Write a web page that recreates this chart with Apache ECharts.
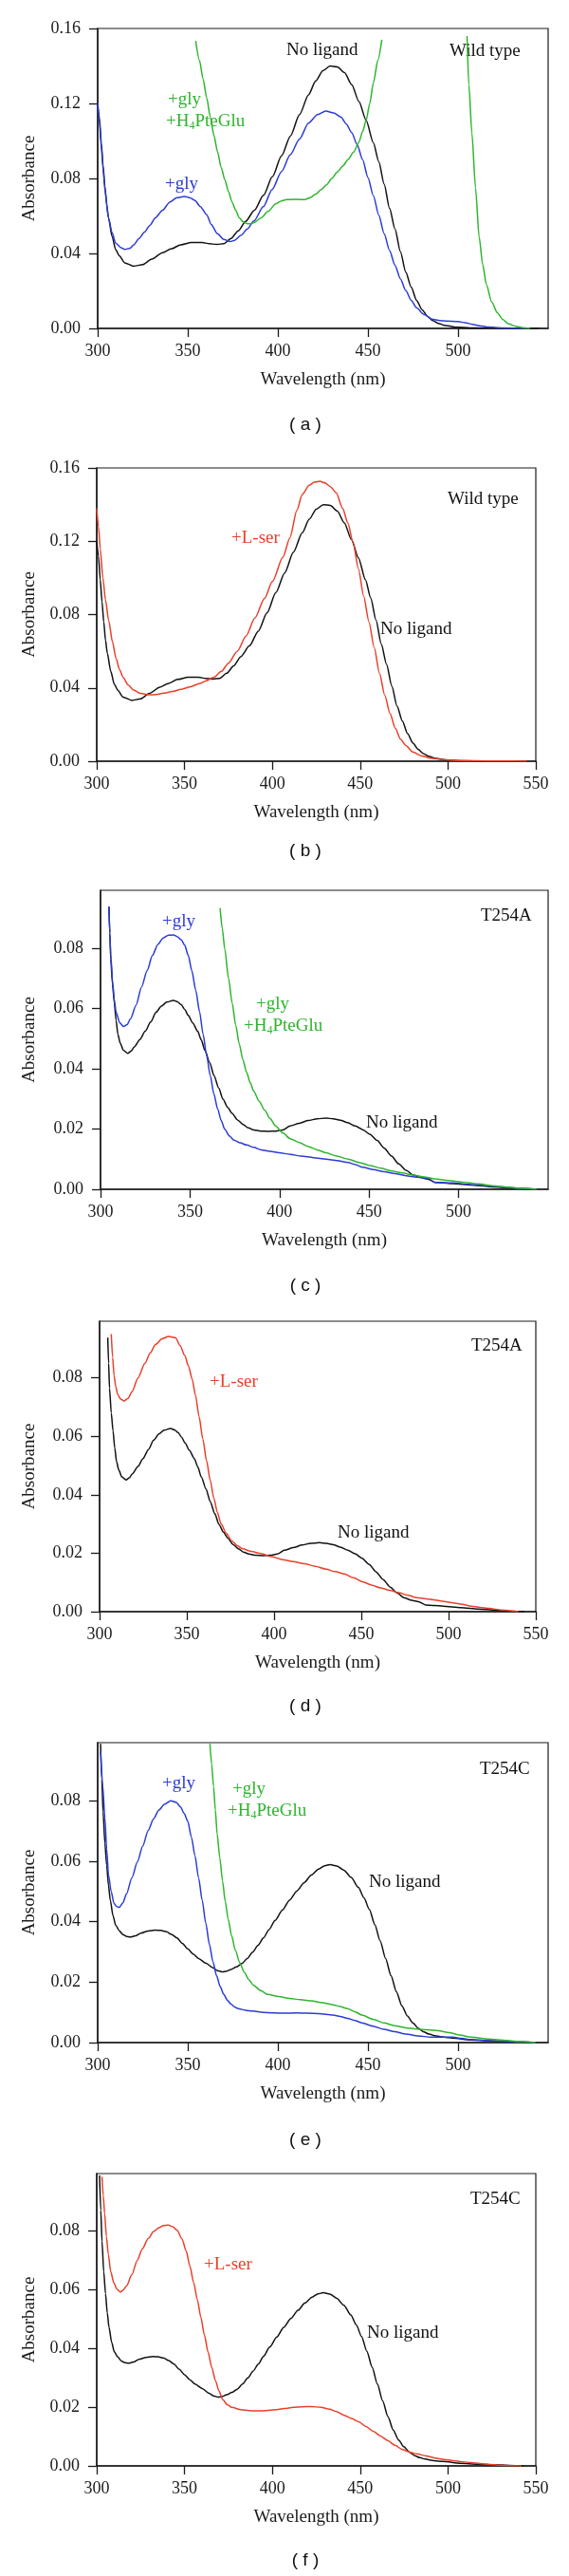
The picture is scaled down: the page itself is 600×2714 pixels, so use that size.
<!DOCTYPE html>
<html><head><meta charset="utf-8">
<script src="https://cdn.jsdelivr.net/npm/echarts@6/dist/echarts.min.js"></script>
<style>html,body{margin:0;padding:0;background:#fff}#c{width:600px;height:2714px}</style>
</head><body><div id="c"></div>
<script>
// ---------- DATA (wavelength nm, absorbance) ----------
const wtNoLigand = [[300,0.120],[301,0.112],[302,0.099],[303,0.087],[304,0.076],[305,0.066],[306,0.059],[308,0.049],[310,0.042],[312,0.0387],[315,0.035],[320,0.0332],[325,0.034],[330,0.037],[336,0.0404],[341,0.0425],[346,0.0446],[352,0.0458],[358,0.0458],[362,0.0452],[366,0.0448],[370,0.0452],[374,0.048],[378,0.052],[382,0.057],[387,0.063],[392,0.071],[397,0.081],[402,0.092],[407,0.1027],[412,0.114],[417,0.1246],[421,0.132],[425,0.1375],[429,0.140],[433,0.1395],[437,0.1364],[441,0.130],[445,0.121],[449,0.111],[453,0.099],[456,0.089],[459,0.077],[462,0.064],[465,0.053],[468,0.041],[471,0.030],[474,0.022],[477,0.015],[480,0.010],[483,0.0065],[486,0.0042],[489,0.0027],[493,0.0015],[500,0.0006],[510,0.0002],[520,0],[545,0]];
const wtGly = [[300,0.120],[301,0.110],[302,0.097],[303,0.085],[304,0.074],[306,0.059],[308,0.051],[310,0.0455],[313,0.043],[315,0.0421],[318,0.0428],[320,0.0446],[323,0.048],[326,0.0514],[329,0.055],[332,0.059],[336,0.063],[340,0.0674],[344,0.0697],[348,0.0704],[351,0.0698],[354,0.0682],[357,0.065],[360.5,0.0606],[363,0.0555],[366.5,0.0505],[370,0.0475],[373.6,0.0463],[376,0.047],[379.6,0.0497],[383,0.053],[386.7,0.0573],[392,0.065],[396.8,0.0741],[402,0.0835],[406.9,0.0926],[412,0.101],[417,0.1095],[422,0.1140],[426.6,0.1159],[431,0.1150],[435,0.1128],[438,0.109],[441,0.1044],[444,0.098],[447,0.0901],[450,0.0805],[453,0.0707],[456,0.0605],[459,0.0505],[462,0.0415],[465,0.0337],[468,0.0265],[471,0.0202],[474,0.015],[477,0.011],[481,0.0075],[485.5,0.005],[490,0.0042],[493.5,0.0039],[500,0.0037],[504,0.003],[508,0.0022],[512,0.0014],[516,0.0008],[525,0.0003],[538,0]];
const wtGlyPteLow = [[354.4,0.1533],[356.5,0.143],[358.5,0.133],[360.5,0.123],[362.5,0.1128],[364.5,0.103],[366.5,0.0943],[368.5,0.086],[370.6,0.0792],[372.6,0.073],[374.6,0.0674],[376.6,0.063],[378.6,0.059],[380.6,0.057],[382.7,0.0559],[384.7,0.0558],[386.7,0.0564],[390.7,0.059],[394.7,0.0625],[398.8,0.0665],[402,0.068],[404.8,0.0687],[410,0.0688],[414.9,0.0687],[418,0.0698],[421,0.0716],[424,0.074],[427,0.0766],[430,0.080],[433,0.0834],[436,0.0866],[439,0.0901],[442,0.094],[445,0.0994],[447,0.105],[449,0.111],[451,0.120],[453,0.131],[455.5,0.143],[457.7,0.154]];
const wtGlyPteHigh = [[505,0.156],[506,0.13],[507.7,0.104],[509.7,0.075],[511.7,0.0488],[513.7,0.034],[515.7,0.0236],[518.7,0.014],[521.8,0.0084],[524.8,0.0048],[527.8,0.0025],[532,0.0012],[536,0.0004],[540,0]];
const wtSer = [[300,0.138],[301,0.128],[302,0.116],[303.5,0.100],[305,0.088],[306.8,0.0768],[309,0.065],[311,0.0561],[313,0.050],[315,0.0457],[318,0.0415],[321,0.0388],[325,0.037],[329.5,0.0362],[334,0.0364],[338,0.0371],[343,0.038],[348,0.0392],[353,0.0405],[358.4,0.0423],[362,0.0438],[366.7,0.0458],[371,0.049],[375,0.0535],[380,0.060],[385,0.0682],[390,0.078],[395.6,0.0889],[400,0.098],[406,0.1113],[410,0.122],[414,0.137],[417,0.1455],[421,0.1505],[424,0.1522],[427,0.1527],[430,0.1518],[433,0.1498],[436.3,0.1465],[440,0.138],[443,0.130],[446,0.119],[449,0.105],[452,0.090],[455,0.076],[458,0.062],[461,0.048],[464,0.036],[467,0.026],[470,0.018],[473,0.012],[476,0.0085],[480,0.005],[485,0.0029],[490,0.0017],[497,0.0009],[505,0.0004],[515,0.0002],[530,0.0001],[545,0]];

const aNoLigand = [[304.7,0.0938],[305.2,0.085],[305.7,0.0765],[306.7,0.068],[307.7,0.0619],[308.7,0.056],[309.7,0.0514],[311,0.0485],[312.8,0.0461],[315.2,0.0451],[317,0.0458],[318.8,0.0472],[322,0.0497],[324.9,0.0524],[328,0.0555],[331,0.0587],[334,0.0608],[337,0.0621],[340.7,0.0627],[343,0.0622],[345,0.0613],[347,0.0597],[349,0.0577],[351.5,0.0552],[354.3,0.0524],[356.3,0.0495],[358.3,0.0461],[361,0.042],[363.4,0.0377],[366,0.0336],[368.4,0.0299],[371,0.0272],[373.5,0.0252],[376.5,0.023],[379.6,0.0215],[382.5,0.0204],[385.6,0.0197],[389.5,0.0193],[393.7,0.0192],[398,0.0193],[401.8,0.0197],[405.9,0.021],[411,0.0219],[416,0.0228],[421,0.0234],[426,0.0236],[430,0.0234],[434,0.0229],[438,0.0221],[442.3,0.021],[446.4,0.0198],[450.4,0.0183],[454.5,0.0162],[458.5,0.0136],[462.5,0.011],[466.6,0.0084],[470.7,0.0063],[474.7,0.0047],[478.8,0.0039],[482.8,0.0034],[486.8,0.0023],[491.8,0.0021],[496.9,0.0019],[507,0.0014],[517,0.0009],[527.3,0.0005],[535,0.0002],[543.5,0]];
const aGly = [[304.7,0.0938],[305.2,0.085],[305.7,0.078],[306.7,0.0692],[307.7,0.063],[308.7,0.0587],[310.7,0.0553],[312.8,0.054],[314.8,0.0546],[316.8,0.0566],[319.8,0.061],[322.9,0.0671],[326,0.0725],[329,0.0776],[332,0.0812],[335,0.0834],[338,0.0843],[340.7,0.0844],[343,0.0838],[345,0.0828],[347,0.081],[349,0.0776],[351,0.0725],[353.2,0.066],[355.3,0.059],[357.3,0.0514],[359.3,0.0443],[361.3,0.0377],[363.3,0.0317],[365.4,0.0267],[367.4,0.0228],[369.4,0.0199],[372,0.0177],[374.5,0.0163],[378,0.0154],[381.6,0.0147],[385.6,0.0139],[389.7,0.0131],[394.7,0.0126],[399.8,0.0121],[406,0.0116],[412,0.011],[419,0.0105],[426,0.010],[432,0.0095],[438.3,0.0089],[442.3,0.0082],[446.4,0.0073],[452.5,0.0065],[458.5,0.0058],[464.5,0.0052],[470.6,0.0045],[476.7,0.004],[482.8,0.0037],[486.8,0.0023],[491.8,0.0022],[496.9,0.0021],[507,0.0016],[517,0.0011],[527.3,0.0007],[535,0.0003],[543.5,0]];
const aGlyPte = [[366.8,0.0933],[368,0.0865],[369.4,0.0797],[371.5,0.070],[373.5,0.0619],[375.5,0.0545],[377.5,0.0482],[379.5,0.043],[381.6,0.0388],[383.6,0.0354],[385.6,0.0325],[388.6,0.0292],[391.7,0.0262],[394.7,0.0235],[397.8,0.021],[401.8,0.0187],[405.9,0.0168],[411,0.0155],[416,0.0142],[421,0.0131],[426,0.0121],[432,0.011],[438.3,0.010],[444.4,0.0089],[450.4,0.0079],[456.5,0.007],[462.6,0.0061],[468.6,0.0054],[474.7,0.0047],[480.8,0.0041],[486.8,0.0035],[493,0.003],[499,0.0026],[505,0.0022],[511,0.0018],[519,0.0012],[527.3,0.0007],[535,0.0003],[543.5,0]];
const aSer = [[306.7,0.095],[307.5,0.087],[308.3,0.0808],[309.3,0.077],[310.4,0.0743],[312,0.0728],[314,0.0721],[316.3,0.0730],[318.7,0.0754],[322,0.080],[326,0.085],[329,0.0885],[332.2,0.0915],[335.8,0.0934],[339.5,0.0942],[343.6,0.0937],[346.2,0.091],[348.8,0.0877],[351,0.084],[353,0.0797],[355,0.074],[357,0.0668],[359.2,0.059],[361.3,0.0517],[363.4,0.045],[365.5,0.0388],[367.5,0.034],[369.6,0.0301],[372.6,0.0268],[375.8,0.0242],[379,0.0226],[382,0.0215],[387,0.0206],[392.5,0.0199],[398.7,0.0188],[405,0.0178],[411,0.0171],[417.4,0.0164],[423.6,0.0155],[429.9,0.0145],[435,0.0137],[440.3,0.0129],[445.5,0.0116],[450.7,0.0102],[455.9,0.0091],[461,0.0081],[466.3,0.0073],[471.5,0.0065],[476.7,0.0056],[481.8,0.0048],[487,0.0044],[492.2,0.004],[497.4,0.0035],[502.6,0.003],[507.8,0.0025],[513,0.0019],[518,0.0015],[523.4,0.0011],[530,0.0006],[535,0.0003],[540,0]];

const cNoLigand = [[301.6,0.0988],[302.3,0.087],[303,0.0763],[304,0.066],[305,0.0586],[306,0.052],[307,0.0471],[308.5,0.042],[310,0.0388],[312,0.037],[314,0.0357],[316,0.0351],[318,0.0349],[321,0.0353],[324,0.0362],[328,0.0369],[332,0.0372],[335,0.0371],[338,0.0367],[341,0.0358],[344,0.0346],[347,0.0328],[350,0.031],[353,0.0293],[356,0.0278],[360,0.0263],[364,0.0247],[366.5,0.0238],[369,0.0234],[371.5,0.0236],[374,0.0242],[377,0.025],[380,0.0261],[383,0.0278],[386,0.0299],[389,0.0322],[392,0.0346],[395,0.0373],[398.5,0.0404],[402.5,0.0438],[406.5,0.0471],[410.5,0.0501],[414.6,0.0529],[418.6,0.0554],[422.6,0.0574],[426,0.0585],[429,0.0589],[432.7,0.0584],[436.7,0.057],[440.7,0.0546],[444.7,0.0513],[447.8,0.0479],[450.8,0.044],[453.8,0.039],[456.8,0.0336],[459.8,0.0278],[462.8,0.0221],[465.8,0.0168],[468.8,0.0122],[471.9,0.0088],[474.9,0.0065],[478,0.0047],[481,0.0035],[484,0.0028],[487,0.0023],[492,0.0018],[497,0.0015],[507,0.0009],[517,0.0006],[527,0.0004],[535,0.0002],[543,0]];
const cGly = [[301.6,0.0962],[302.8,0.085],[304,0.0743],[305,0.064],[306,0.0555],[307.5,0.050],[309,0.0461],[310.5,0.045],[312,0.0447],[314,0.0462],[316,0.0492],[319,0.0545],[322,0.0597],[325,0.065],[328,0.0701],[331,0.074],[334,0.0769],[337,0.0788],[340.6,0.080],[343.5,0.0795],[346,0.0779],[348,0.0758],[350,0.0732],[352,0.068],[354,0.0618],[356,0.0545],[358,0.0471],[360,0.0395],[362,0.0325],[364,0.0267],[366,0.0221],[368,0.0185],[370,0.0159],[372,0.014],[374,0.0127],[376,0.0118],[378,0.0112],[382,0.0107],[386,0.0104],[392,0.010],[398,0.0098],[404,0.0097],[410.5,0.0098],[416.5,0.0097],[422.6,0.0096],[430.6,0.0091],[434.6,0.0086],[438.7,0.008],[442.7,0.0073],[446.7,0.0065],[452.8,0.0054],[458.8,0.0044],[464.8,0.0036],[470.9,0.0028],[478,0.0022],[485,0.0018],[491,0.0018],[497,0.0018],[502,0.0014],[507,0.001],[517,0.0006],[527,0.0004],[535,0.0002],[543,0]];
const cGlyPte = [[362.3,0.0988],[363.3,0.092],[364.3,0.0847],[365.3,0.077],[366.3,0.069],[367.8,0.061],[369.3,0.0534],[370.8,0.0467],[372.4,0.0409],[374.4,0.0352],[376.4,0.0305],[378.9,0.0264],[381.4,0.0232],[383.9,0.0208],[386.4,0.019],[390.5,0.0172],[394.5,0.0159],[400.5,0.0152],[406.5,0.0146],[412.5,0.0142],[418.6,0.0138],[424.6,0.0132],[430.6,0.0125],[434.6,0.0119],[438.7,0.0112],[442.7,0.0102],[446.7,0.0091],[452.8,0.0077],[458.8,0.0065],[464.8,0.0056],[470.9,0.0049],[477,0.0045],[483,0.0042],[489,0.0039],[495,0.0033],[501,0.0025],[507,0.0018],[517,0.0012],[527,0.0007],[535,0.0003],[543,0]];
const cSer = [[303,0.0983],[303.7,0.092],[304.5,0.0859],[305.5,0.078],[306.6,0.0719],[308,0.066],[309.7,0.0623],[311.5,0.0601],[313.4,0.0591],[315,0.0597],[317,0.0612],[320,0.065],[323,0.0698],[326,0.0738],[329.3,0.0773],[332.4,0.0797],[335.5,0.081],[338,0.0817],[340.7,0.0819],[343.3,0.0813],[345.9,0.080],[348.5,0.0772],[351,0.073],[353,0.068],[355.2,0.0623],[357.3,0.0565],[359.3,0.0505],[361.3,0.0445],[363.4,0.0387],[365.5,0.0335],[367.6,0.029],[369.6,0.0255],[371.7,0.0226],[374.3,0.0208],[376.9,0.0199],[382,0.0191],[386.7,0.0188],[391.3,0.0187],[396.5,0.0188],[401.6,0.0191],[406.8,0.0195],[412,0.0199],[417,0.0201],[422.3,0.0202],[427.5,0.0199],[432.6,0.0193],[436.8,0.0184],[441,0.0172],[445.1,0.0161],[449.2,0.015],[453.3,0.0134],[457.4,0.0118],[461.5,0.0102],[465.7,0.0086],[469.8,0.007],[474,0.0056],[478,0.0047],[482.2,0.0041],[487.4,0.0034],[492.6,0.0027],[497.8,0.0022],[503,0.0018],[508,0.0014],[513,0.0011],[518,0.0008],[523.6,0.0005],[532,0.0002],[542,0]];

// tick labels
const xTicksShort = [300, 350, 400, 450, 500];
const xTicksFull = [300, 350, 400, 450, 500, 550];
const yTicksWT = [0, 0.04, 0.08, 0.12, 0.16];
const yTicksMut = [0, 0.02, 0.04, 0.06, 0.08];
const captions = ['( a )', '( b )', '( c )', '( d )', '( e )', '( f )'];
const xTitle = 'Wavelength (nm)';
const yTitle = 'Absorbance';

// ---------- STYLE / LAYOUT ----------
const BLACK = '#111111', BLUE = '#2b3bd6', GREEN = '#2db52d', RED = '#e8402a';
const SERIF = '"Liberation Serif", "DejaVu Serif", serif';
const SANS = '"Liberation Sans", Arial, sans-serif';

const panels = [
  {grid:{left:103, top:30, width:475, height:316}, yMax:0.16, yTicks:yTicksWT, xTicks:xTicksShort,
   series:[[wtNoLigand,BLACK],[wtGly,BLUE],[wtGlyPteLow,GREEN],[wtGlyPteHigh,GREEN]], captionY:448},
  {grid:{left:102, top:493, width:463, height:309}, yMax:0.16, yTicks:yTicksWT, xTicks:xTicksFull,
   series:[[wtNoLigand,BLACK],[wtSer,RED]], captionY:897},
  {grid:{left:106, top:938, width:472, height:315}, yMax:0.0992, yTicks:yTicksMut, xTicks:xTicksShort,
   series:[[aNoLigand,BLACK],[aGly,BLUE],[aGlyPte,GREEN]], captionY:1355},
  {grid:{left:105, top:1392, width:460, height:306}, yMax:0.0994, yTicks:yTicksMut, xTicks:xTicksFull,
   series:[[aNoLigand,BLACK],[aSer,RED]], captionY:1798},
  {grid:{left:103, top:1836, width:475, height:316}, yMax:0.0992, yTicks:yTicksMut, xTicks:xTicksShort,
   series:[[cNoLigand,BLACK],[cGly,BLUE],[cGlyPte,GREEN]], captionY:2255},
  {grid:{left:102, top:2290, width:463, height:308}, yMax:0.0994, yTicks:yTicksMut, xTicks:xTicksFull,
   series:[[cNoLigand,BLACK],[cSer,RED]], captionY:2698}
];

const grid = [], xAxis = [], yAxis = [], series = [], graphic = [];
panels.forEach((p, i) => {
  grid.push(Object.assign({show:true, borderColor:'#1a1a1a', borderWidth:1.2, backgroundColor:'transparent'}, p.grid));
  xAxis.push({
    type:'value', gridIndex:i, min:300, max:550,
    name:xTitle, nameLocation:'middle', nameGap:54,
    nameTextStyle:{fontFamily:SERIF, fontSize:19, color:'#1a1a1a', verticalAlign:'middle'},
    axisLine:{show:true, onZero:false, lineStyle:{color:'#1a1a1a', width:1.5}},
    axisTick:{show:true, inside:false, length:9, customValues:p.xTicks, lineStyle:{color:'#1a1a1a', width:1.3}},
    axisLabel:{customValues:p.xTicks, margin:15, fontFamily:SERIF, fontSize:18, color:'#1a1a1a'},
    splitLine:{show:false}
  });
  yAxis.push({
    type:'value', gridIndex:i, min:0, max:p.yMax,
    name:yTitle, nameLocation:'middle', nameGap:p.grid.left - 31,
    nameTextStyle:{fontFamily:SERIF, fontSize:19, color:'#1a1a1a', verticalAlign:'middle'},
    axisLine:{show:true, onZero:false, lineStyle:{color:'#1a1a1a', width:1.5}},
    axisTick:{show:true, inside:false, length:9, customValues:p.yTicks, lineStyle:{color:'#1a1a1a', width:1.3}},
    axisLabel:{customValues:p.yTicks, margin:18, fontFamily:SERIF, fontSize:18, color:'#1a1a1a',
      formatter:v => Number(v).toFixed(2)},
    splitLine:{show:false}
  });
  p.series.forEach(([data, color]) => {
    series.push({type:'line', xAxisIndex:i, yAxisIndex:i, data:data, showSymbol:false, symbol:'none',
      smooth:0.25, smoothMonotone:'x', clip:true, silent:true, animation:false,
      lineStyle:{color:color, width:1.5}});
  });
  graphic.push({type:'text', x:322, y:p.captionY, silent:true,
    style:{text:captions[i], font:'19px ' + SANS, fill:'#111', align:'center', verticalAlign:'middle'}});
});

function label(x, y, text, color) {
  graphic.push({type:'text', x:x, y:y, silent:true,
    style:{text:text, fontFamily:SERIF, fontSize:19, fill:color, align:'left', verticalAlign:'middle'}});
}
function pteLabel(x, y) {
  graphic.push({type:'text', x:x, y:y, silent:true,
    style:{text:'{n|+H}{s|4}{n|PteGlu}', fill:GREEN, align:'left', verticalAlign:'middle',
      rich:{n:{fontFamily:SERIF, fontSize:19, lineHeight:22, fill:GREEN},
            s:{fontFamily:SERIF, fontSize:12, lineHeight:12, verticalAlign:'bottom', fill:GREEN}}}});
}
// panel a
label(302, 53, 'No ligand', BLACK); label(474, 54, 'Wild type', BLACK);
label(177, 105, '+gly', GREEN); pteLabel(175, 128); label(174, 194, '+gly', BLUE);
// panel b
label(472, 526, 'Wild type', BLACK); label(244, 567, '+L-ser', RED); label(401, 663, 'No ligand', BLACK);
// panel c
label(507, 965, 'T254A', BLACK); label(171, 971, '+gly', BLUE);
label(270, 1058, '+gly', GREEN); pteLabel(257, 1081); label(386, 1183, 'No ligand', BLACK);
// panel d
label(497, 1418, 'T254A', BLACK); label(221, 1456, '+L-ser', RED); label(356, 1615, 'No ligand', BLACK);
// panel e
label(506, 1864, 'T254C', BLACK); label(171, 1879, '+gly', BLUE);
label(245, 1885, '+gly', GREEN); pteLabel(240, 1908); label(389, 1983, 'No ligand', BLACK);
// panel f
label(496, 2317, 'T254C', BLACK); label(215, 2386, '+L-ser', RED); label(387, 2458, 'No ligand', BLACK);

const chart = echarts.init(document.getElementById('c'), null, {renderer:'canvas'});
chart.setOption({backgroundColor:'#ffffff', animation:false, grid, xAxis, yAxis, series, graphic});
</script></body></html>
